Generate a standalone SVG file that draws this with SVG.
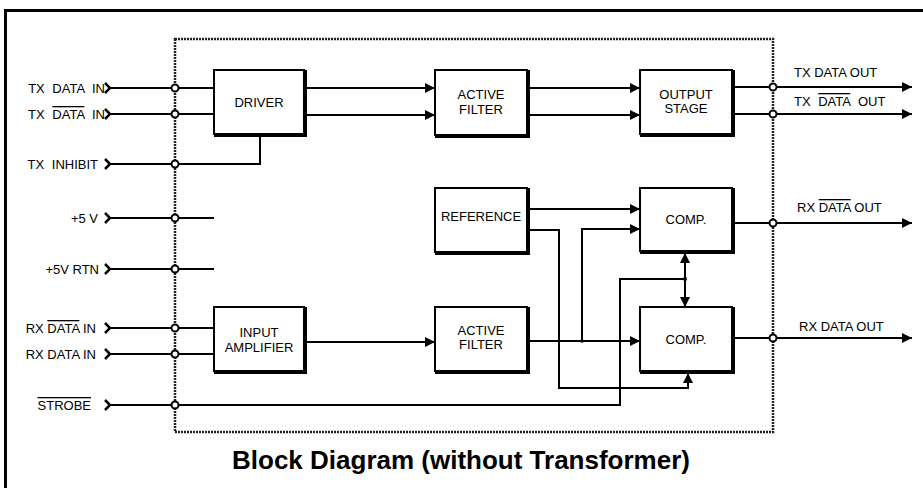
<svg xmlns="http://www.w3.org/2000/svg" width="923" height="488" viewBox="0 0 923 488">
<style>
text{font-family:"Liberation Sans",Arial,sans-serif;font-size:13px;fill:#000}
.lbl{word-spacing:4px}
.c{text-anchor:middle}
.e{text-anchor:end}
.ov{text-decoration:overline}
.w{fill:none;stroke:#000;stroke-width:2}
.box{fill:#fff;stroke:#000;stroke-width:2}
.sh{fill:none;stroke:#000;stroke-width:3}
.pin{fill:#fff;stroke:#000;stroke-width:2}
.chev{fill:none;stroke:#000;stroke-width:2.5}
.title{font-size:26px;font-weight:bold}
</style>
<defs>
<marker id="ah" viewBox="0 0 10 10" refX="10" refY="5" markerWidth="11" markerHeight="10" markerUnits="userSpaceOnUse" orient="auto-start-reverse">
<path d="M0,0 L10,5 L0,10 Z" fill="#000"/>
</marker>
</defs>
<rect width="923" height="488" fill="#fff"/>
<path d="M5.5,500 V10.5 H930" fill="none" stroke="#000" stroke-width="3"/>
<rect x="175" y="39" width="598" height="393" fill="none" stroke="#222" stroke-width="2.5" stroke-dasharray="2 1"/>

<g id="connectors">
<path class="w" d="M110,88 H214 M110,114 H214 M110,164 H260 V136 M110,218 H214 M110,269 H214 M110,328 H214 M110,354 H214"/>
<path class="w" d="M110,405 H620 V279 H685"/>
<path class="w" marker-end="url(#ah)" d="M306,88 H435"/>
<path class="w" marker-end="url(#ah)" d="M306,115 H435"/>
<path class="w" marker-end="url(#ah)" d="M529,88 H640"/>
<path class="w" marker-end="url(#ah)" d="M529,115 H640"/>
<path class="w" marker-end="url(#ah)" d="M734,87 H912"/>
<path class="w" marker-end="url(#ah)" d="M734,114 H912"/>
<path class="w" marker-end="url(#ah)" d="M306,342 H435"/>
<path class="w" marker-end="url(#ah)" d="M529,341 H640"/>
<path class="w" marker-end="url(#ah)" d="M529,209 H640"/>
<path class="w" marker-end="url(#ah)" d="M582,341 V229 H640"/>
<path class="w" marker-end="url(#ah)" d="M529,230 H559 V388 H688 V373"/>
<path class="w" marker-start="url(#ah)" marker-end="url(#ah)" d="M685,253 V307"/>
<path class="w" marker-end="url(#ah)" d="M734,223 H912"/>
<path class="w" marker-end="url(#ah)" d="M734,338 H912"/>
<circle cx="582" cy="341" r="1.8" fill="#000"/>
<circle cx="685" cy="279" r="2" fill="#000"/>
</g>

<g id="pins">
<path class="chev" d="M105,83 L110,88 L105,93 M105,109 L110,114 L105,119 M105,159 L110,164 L105,169 M105,213 L110,218 L105,223 M105,264 L110,269 L105,274 M105,323 L110,328 L105,333 M105,349 L110,354 L105,359 M105,400 L110,405 L105,410"/>
<circle class="pin" cx="175" cy="88" r="3.5"/>
<circle class="pin" cx="175" cy="114" r="3.5"/>
<circle class="pin" cx="175" cy="164" r="3.5"/>
<circle class="pin" cx="175" cy="218" r="3.5"/>
<circle class="pin" cx="175" cy="269" r="3.5"/>
<circle class="pin" cx="175" cy="328" r="3.5"/>
<circle class="pin" cx="175" cy="354" r="3.5"/>
<circle class="pin" cx="175" cy="405" r="3.5"/>
<circle class="pin" cx="773" cy="87" r="3.5"/>
<circle class="pin" cx="773" cy="114" r="3.5"/>
<circle class="pin" cx="773" cy="223" r="3.5"/>
<circle class="pin" cx="773" cy="338" r="3.5"/>
<text class="lbl e" x="105" y="93">TX DATA IN</text>
<text class="lbl e" x="105" y="119">TX <tspan class="ov">DATA</tspan> IN</text>
<text class="lbl e" x="98" y="169">TX INHIBIT</text>
<text class="e" x="98" y="223">+5 V</text>
<text class="e" x="99" y="274">+5V RTN</text>
<text class="e" x="96" y="333">RX <tspan class="ov">DATA</tspan> IN</text>
<text class="e" x="96" y="359">RX DATA IN</text>
<text class="e" x="91" y="410"><tspan class="ov">STROBE</tspan></text>
<text x="794" y="77">TX DATA OUT</text>
<text class="lbl" x="794" y="106">TX <tspan class="ov">DATA</tspan> OUT</text>
<text x="797" y="212">RX <tspan class="ov">DATA</tspan> OUT</text>
<text x="799" y="331">RX DATA OUT</text>
</g>

<g id="driver">
<rect class="box" x="214" y="70" width="90" height="64"/>
<path class="sh" d="M305.5,70 V135.5 H214"/>
<text class="c" x="259" y="107">DRIVER</text>
</g>
<g id="active-filter-1">
<rect class="box" x="435" y="70" width="92" height="65"/>
<path class="sh" d="M528.5,70 V136.5 H435"/>
<text class="c" x="481" y="99">ACTIVE</text>
<text class="c" x="481" y="114">FILTER</text>
</g>
<g id="output-stage">
<rect class="box" x="640" y="70" width="92" height="64"/>
<path class="sh" d="M733.5,70 V135.5 H640"/>
<text class="c" x="686" y="99">OUTPUT</text>
<text class="c" x="686" y="113">STAGE</text>
</g>
<g id="reference">
<rect class="box" x="435" y="188" width="92" height="64"/>
<path class="sh" d="M528.5,188 V253.5 H435"/>
<text class="c" x="481" y="221">REFERENCE</text>
</g>
<g id="comp-1">
<rect class="box" x="640" y="188" width="92" height="63"/>
<path class="sh" d="M733.5,188 V252.5 H640"/>
<text class="c" x="686" y="224">COMP.</text>
</g>
<g id="input-amplifier">
<rect class="box" x="214" y="307" width="90" height="64"/>
<path class="sh" d="M305.5,307 V372.5 H214"/>
<text class="c" x="259" y="337">INPUT</text>
<text class="c" x="259" y="352">AMPLIFIER</text>
</g>
<g id="active-filter-2">
<rect class="box" x="435" y="307" width="92" height="64"/>
<path class="sh" d="M528.5,307 V372.5 H435"/>
<text class="c" x="481" y="335">ACTIVE</text>
<text class="c" x="481" y="349">FILTER</text>
</g>
<g id="comp-2">
<rect class="box" x="640" y="307" width="92" height="64"/>
<path class="sh" d="M733.5,307 V372.5 H640"/>
<text class="c" x="686" y="344">COMP.</text>
</g>
<text class="title c" x="461" y="469">Block Diagram (without Transformer)</text>
</svg>
